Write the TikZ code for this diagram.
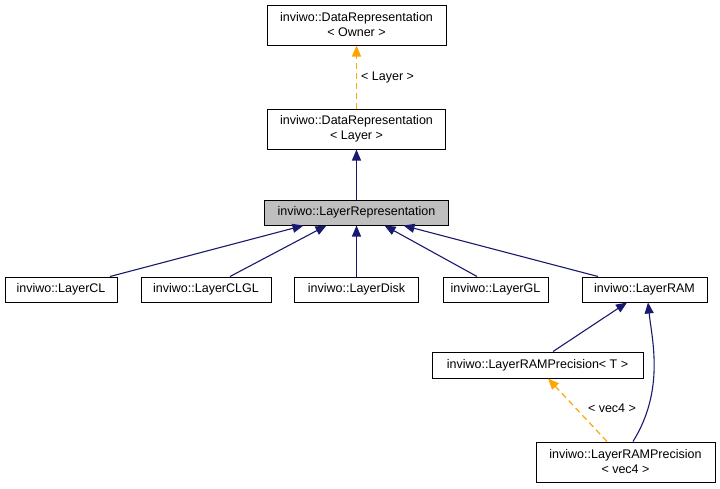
\documentclass[tikz,border=0pt]{standalone}
\usepackage{fontspec}
\setmainfont{Liberation Sans}
\usetikzlibrary{arrows.meta}
\definecolor{navy}{HTML}{191970}
\definecolor{dorange}{HTML}{FFA500}
\definecolor{boxgray}{HTML}{BFBFBF}
\tikzset{
  box/.style={draw=black, line width=1pt, fill=white, inner sep=0pt, align=center,
    font=\fontsize{12.5}{15}\selectfont},
  inh/.style={draw=navy, line width=1.1pt, -{Triangle[length=11pt,width=9pt]}},
  tmpl/.style={draw=dorange, line width=1.2pt, dash pattern=on 6pt off 4pt, -{Triangle[length=11pt,width=9pt]}},
  lbl/.style={font=\fontsize{12.5}{15}\selectfont, inner sep=0pt}
}
\begin{document}
\begin{tikzpicture}[x=1pt,y=-1pt]
\useasboundingbox[fill=white] (0,0) rectangle (720,488);
\node[box, minimum width=179pt, minimum height=40pt] (b1) at (356.5,25) {inviwo::DataRepresentation\\\textless{} Owner \textgreater};
\node[box, minimum width=178pt, minimum height=40pt] (b2) at (356.5,129) {inviwo::DataRepresentation\\\textless{} Layer \textgreater};
\node[box, fill=boxgray, minimum width=184pt, minimum height=25pt] (b3) at (356.5,212.5) {inviwo::LayerRepresentation};
\node[box, minimum width=112pt, minimum height=25pt] (cl) at (61,289.5) {inviwo::LayerCL};
\node[box, minimum width=130pt, minimum height=25pt] (clgl) at (206,289.5) {inviwo::LayerCLGL};
\node[box, minimum width=124pt, minimum height=25pt] (disk) at (356.5,289.5) {inviwo::LayerDisk};
\node[box, minimum width=105pt, minimum height=25pt] (gl) at (495.5,289.5) {inviwo::LayerGL};
\node[box, minimum width=125pt, minimum height=25pt] (ram) at (644.5,289.5) {inviwo::LayerRAM};
\node[box, minimum width=211pt, minimum height=26pt] (rpt) at (537.5,365) {inviwo::LayerRAMPrecision\textless{} T \textgreater};
\node[box, minimum width=179pt, minimum height=40pt] (rpv) at (625.5,462) {inviwo::LayerRAMPrecision\\\textless{} vec4 \textgreater};

\draw[tmpl] (b2.north) -- (b1.south);
\node[lbl, anchor=west] (l1) at (361,77) {\textless{} Layer \textgreater};
\draw[inh] (b3.north) -- (b2.south);
\draw[inh] ([xshift=49pt]cl.north) -- ([xshift=-53pt]b3.south);
\draw[inh] ([xshift=24pt]clgl.north) -- ([xshift=-30pt]b3.south);
\draw[inh] (disk.north) -- (b3.south);
\draw[inh] ([xshift=-18.5pt]gl.north) -- ([xshift=28pt]b3.south);
\draw[inh] ([xshift=-46.5pt]ram.north) -- ([xshift=47pt]b3.south);
\draw[inh] ([xshift=15.5pt]rpt.north) -- ([xshift=-17.5pt]ram.south);
\draw[inh] ([xshift=7.5pt]rpv.north) .. controls (665,390) and (652,340) .. ([xshift=3.5pt]ram.south);
\draw[tmpl] ([xshift=-18.5pt]rpv.north) -- ([xshift=10.5pt]rpt.south);
\node[lbl] (l2) at (612,408) {\textless{} vec4 \textgreater};
\end{tikzpicture}
\end{document}
